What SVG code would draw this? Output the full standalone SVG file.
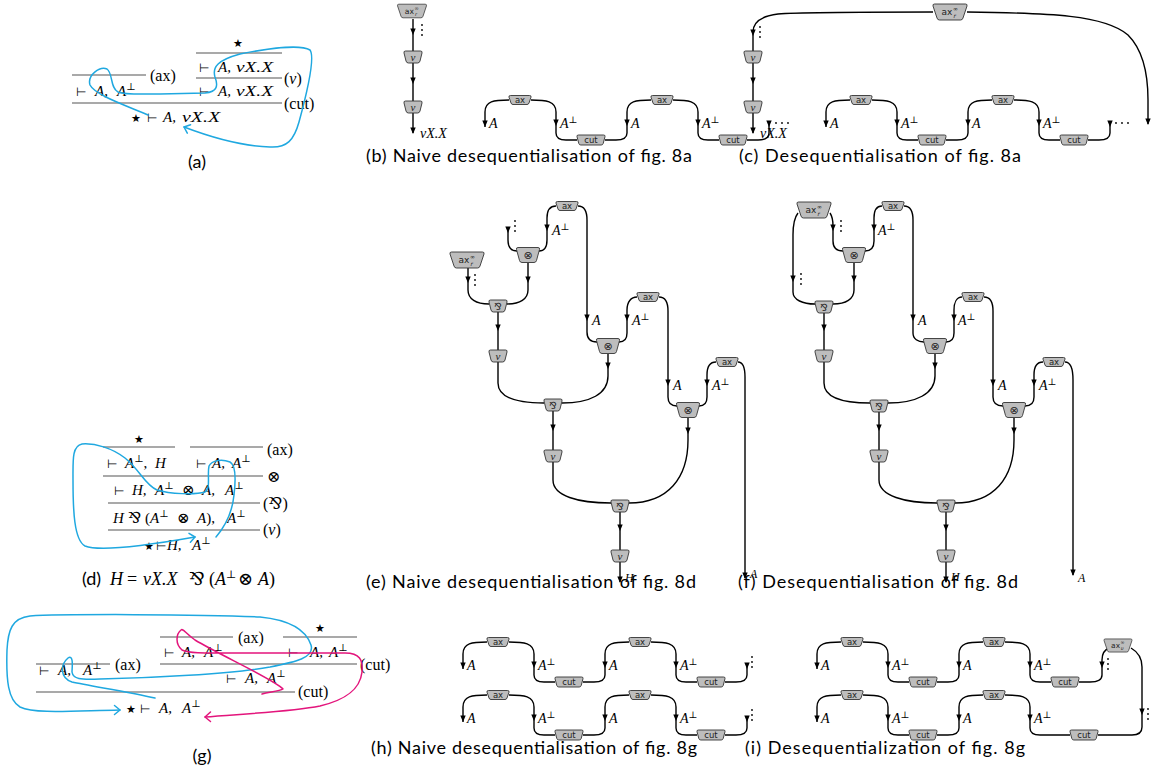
<svg xmlns="http://www.w3.org/2000/svg" width="1164" height="774" viewBox="0 0 1164 774">
<style>
.n{fill:#bdbdbd;stroke:#333;stroke-width:0.9}
.nt{font-family:"DejaVu Sans","Liberation Sans",sans-serif;font-size:8.5px;fill:#222;text-anchor:middle}
.ns{font-family:"DejaVu Sans",sans-serif;font-size:6px;fill:#222}
.nm{font-family:"Liberation Serif","DejaVu Serif",serif;font-style:italic;font-size:11px;fill:#222;text-anchor:middle}
.e{fill:none;stroke:#000;stroke-width:1.4}
.l{font-family:"Liberation Serif","DejaVu Serif",serif;font-style:italic;font-size:14px;fill:#000}
.sup{font-style:normal;font-size:9.5px}
.cap{font-family:"Lato","Liberation Sans",sans-serif;font-size:18px;fill:#000}
.sq{font-family:"Liberation Serif","DejaVu Serif",serif;font-size:15px;fill:#000}
.mi{font-style:italic}
.tu{font-family:"DejaVu Sans",sans-serif;font-size:12px}
.sp{font-family:"DejaVu Serif",serif;font-size:10px}
.star{font-family:"DejaVu Sans",sans-serif;font-size:11px;text-anchor:middle}
.rl{font-family:"Liberation Serif","DejaVu Serif",serif;font-size:16px;fill:#000}
.rule{stroke:#555;stroke-width:1.1}
.blue{fill:none;stroke:#1FA8E0;stroke-width:1.5;stroke-linecap:round;stroke-linejoin:round}
.mag{fill:none;stroke:#E3157C;stroke-width:1.5;stroke-linecap:round;stroke-linejoin:round}
.dt{fill:#000}
</style>
<defs>
<path id="ah" d="M-2.7,-6.5 L2.7,-6.5 L0,0 Z" fill="#000"/>
<g id="axN"><path class="n" d="M-9.5,-4.5 H9.5 Q11.5,-4.5 11,-2.8 L9,3 Q8.5,4.5 7,4.5 H-7 Q-8.5,4.5 -9,3 L-11,-2.8 Q-11.5,-4.5 -9.5,-4.5 Z"/><text class="nt" y="3">ax</text></g>
<g id="cutN"><path class="n" d="M-12.5,-5 H12.5 Q14.5,-5 14,-3.3 L12.2,3.5 Q11.7,5 10.2,5 H-10.2 Q-11.7,5 -12.2,3.5 L-14,-3.3 Q-14.5,-5 -12.5,-5 Z"/><text class="nt" y="3.2">cut</text></g>
<path id="smS" class="n" d="M-7.5,-6 H7.5 Q9.5,-6 9,-4 L7,4 Q6.5,6 4.5,6 H-4.5 Q-6.5,6 -7,4 L-9,-4 Q-9.5,-6 -7.5,-6 Z"/>
<g id="nuN"><use href="#smS"/><text class="nm" y="3.5">ν</text></g>
<g id="parN"><use href="#smS"/><text class="nt" y="3.5" style="font-size:10px">⅋</text></g>
<g id="tenN"><path class="n" d="M-10,-7.5 H10 Q12,-7.5 11.5,-5.5 L8.5,5.5 Q8,7.5 6,7.5 H-6 Q-8,7.5 -8.5,5.5 L-11.5,-5.5 Q-12,-7.5 -10,-7.5 Z"/><text class="nt" y="4" style="font-size:11px">⊗</text></g>
<g id="axrN"><path class="n" d="M-15.5,-8 H15.5 Q17.5,-8 17,-6 L13,6 Q12.5,8 10.5,8 H-10.5 Q-12.5,8 -13,6 L-17,-6 Q-17.5,-8 -15.5,-8 Z"/><text class="nt" x="-3" y="3" style="font-size:9px">ax</text><text class="ns" x="3" y="-1.5">∞</text><text class="ns" x="3.5" y="5.5" style="font-style:italic">r</text></g>
<g id="axvN"><path class="n" d="M-15.5,-8 H15.5 Q17.5,-8 17,-6 L13,6 Q12.5,8 10.5,8 H-10.5 Q-12.5,8 -13,6 L-17,-6 Q-17.5,-8 -15.5,-8 Z"/><text class="nt" x="-3" y="3" style="font-size:9px">ax</text><text class="ns" x="3" y="-1.5">∞</text><text class="ns" x="3.5" y="5.5" style="font-style:italic">υ</text></g>
<g id="ch3">
<path class="e" d="M-11,0 C-26,0 -35,1 -35,12 L-35,27"/>
<path class="e" d="M11,0 C26,0 36,1 36,12 L36,33 C36,38 39,40 46,40 L57,40"/>
<path class="e" d="M85,40 L96,40 C103,40 107,38 107,33 L107,12 C107,1 116,0 131,0"/>
<use href="#ah" x="-35" y="27"/><use href="#ah" x="36" y="26"/><use href="#ah" x="107" y="26"/>
<text class="l" x="-31" y="28">A</text>
<text class="l" x="40" y="28">A<tspan class="sup" dy="-5">⊥</tspan></text>
<text class="l" x="111" y="28">A</text>
</g>
<g id="ch4"><use href="#ch3"/><path class="e" d="M153,0 C168,0 178,1 178,12 L178,33 C178,38 181,40 188,40 L199,40"/><use href="#ah" x="178" y="26"/><text class="l" x="182" y="28">A<tspan class="sup" dy="-5">⊥</tspan></text></g>
<g id="ch5"><use href="#ch4"/><path class="e" d="M227,40 L238,40 C245,40 249,38 249,33 L249,21"/><use href="#ah" x="249" y="27"/></g>
<g id="vd"><circle class="dt" cx="0" cy="0" r="0.9"/><circle class="dt" cx="0" cy="5" r="0.9"/><circle class="dt" cx="0" cy="10" r="0.9"/></g>
<g id="hd"><circle class="dt" cx="0" cy="0" r="0.9"/><circle class="dt" cx="6" cy="0" r="0.9"/><circle class="dt" cx="12" cy="0" r="0.9"/></g>
</defs>
<rect width="1164" height="774" fill="#fff"/>

<!-- (a) sequent proof -->
<g id="proof-a">
<line class="rule" x1="196" y1="53" x2="282" y2="53"/>
<line class="rule" x1="72" y1="75" x2="146" y2="75"/>
<line class="rule" x1="196" y1="78" x2="282" y2="78"/>
<line class="rule" x1="72" y1="103" x2="282" y2="103"/>
<text class="star" x="238" y="47">★</text>
<text class="sq" y="72"><tspan class="tu" x="199">⊢</tspan><tspan class="mi" x="218">A,</tspan></text><text class="sq mi" x="236" y="72" textLength="37" lengthAdjust="spacingAndGlyphs">νX.X</text>
<text class="sq" y="96"><tspan class="tu" x="199">⊢</tspan><tspan class="mi" x="218">A,</tspan></text><text class="sq mi" x="236" y="96" textLength="37" lengthAdjust="spacingAndGlyphs">νX.X</text>
<text class="sq" y="96"><tspan class="tu" x="76">⊢</tspan><tspan class="mi" x="95">A,</tspan><tspan class="mi" x="117">A</tspan><tspan class="sp" dy="-6">⊥</tspan></text>
<text class="sq" y="122"><tspan class="star" x="136">★</tspan><tspan class="tu" x="147">⊢</tspan><tspan class="mi" x="163">A,</tspan></text><text class="sq mi" x="182" y="122" textLength="38" lengthAdjust="spacingAndGlyphs">νX.X</text>
<text class="rl" x="150" y="81">(ax)</text>
<text class="rl" x="284" y="84">(<tspan class="mi">ν</tspan>)</text>
<text class="rl" x="284" y="109">(cut)</text>
<text class="cap" x="197" y="168" text-anchor="middle">(a)</text>
</g>

<!-- (d) sequent proof -->
<g id="proof-d">
<line class="rule" x1="103" y1="447" x2="175" y2="447"/>
<line class="rule" x1="190" y1="447" x2="263" y2="447"/>
<line class="rule" x1="103" y1="476" x2="263" y2="476"/>
<line class="rule" x1="108" y1="503" x2="260" y2="503"/>
<line class="rule" x1="108" y1="530" x2="260" y2="530"/>
<text class="star" x="139" y="443">★</text>
<text class="sq" y="468"><tspan class="tu" x="107">⊢</tspan><tspan class="mi" x="125">A</tspan><tspan class="sp" dy="-6">⊥</tspan><tspan dy="6">,</tspan><tspan class="mi" x="155">H</tspan></text>
<text class="sq" y="468"><tspan class="tu" x="196">⊢</tspan><tspan class="mi" x="212">A,</tspan><tspan class="mi" x="232">A</tspan><tspan class="sp" dy="-6">⊥</tspan></text>
<text class="sq" y="495"><tspan class="tu" x="114">⊢</tspan><tspan class="mi" x="132">H,</tspan><tspan class="mi" x="155">A</tspan><tspan class="sp" dy="-6">⊥</tspan><tspan x="182" dy="6">⊗</tspan><tspan class="mi" x="202">A,</tspan><tspan class="mi" x="225">A</tspan><tspan class="sp" dy="-6">⊥</tspan></text>
<text class="sq" y="523"><tspan class="mi" x="113">H</tspan><tspan x="128">⅋</tspan><tspan x="145">(</tspan><tspan class="mi">A</tspan><tspan class="sp" dy="-6">⊥</tspan><tspan x="177" dy="6">⊗</tspan><tspan class="mi" x="197">A</tspan><tspan>),</tspan><tspan class="mi" x="227">A</tspan><tspan class="sp" dy="-6">⊥</tspan></text>
<text class="sq" y="550"><tspan class="star" x="149">★</tspan><tspan class="tu" x="156">⊢</tspan><tspan class="mi" x="167">H,</tspan><tspan class="mi" x="192">A</tspan><tspan class="sp" dy="-6">⊥</tspan></text>
<text class="rl" x="267" y="455">(ax)</text>
<text class="rl" x="267" y="482">⊗</text>
<text class="rl" x="263" y="509">(⅋)</text>
<text class="rl" x="263" y="535">(<tspan class="mi">ν</tspan>)</text>
<text class="sq" y="585" style="font-size:18px"><tspan class="cap" x="82" style="font-size:18px">(d)</tspan><tspan class="mi" x="110">H</tspan><tspan x="127">=</tspan><tspan class="mi" x="143">νX.X</tspan><tspan x="189">⅋</tspan><tspan x="209">(</tspan><tspan class="mi">A</tspan><tspan class="sp" dy="-7" style="font-size:11px">⊥</tspan><tspan dy="7" x="238">⊗</tspan><tspan class="mi" x="258">A</tspan><tspan>)</tspan></text>
</g>

<!-- (g) sequent proof -->
<g id="proof-g">
<line class="rule" x1="160" y1="637" x2="233" y2="637"/>
<line class="rule" x1="283" y1="637" x2="357" y2="637"/>
<line class="rule" x1="160" y1="664" x2="357" y2="664"/>
<line class="rule" x1="36" y1="664" x2="110" y2="664"/>
<line class="rule" x1="36" y1="692" x2="295" y2="692"/>
<text class="star" x="320" y="632">★</text>
<text class="sq" y="657"><tspan class="tu" x="164">⊢</tspan><tspan class="mi" x="182">A,</tspan><tspan class="mi" x="204">A</tspan><tspan class="sp" dy="-6">⊥</tspan></text>
<text class="sq" y="657"><tspan class="tu" x="288">⊢</tspan><tspan class="mi" x="310">A,</tspan><tspan class="mi" x="329">A</tspan><tspan class="sp" dy="-6">⊥</tspan></text>
<text class="sq" y="675"><tspan class="tu" x="39">⊢</tspan><tspan class="mi" x="58">A,</tspan><tspan class="mi" x="83">A</tspan><tspan class="sp" dy="-6">⊥</tspan></text>
<text class="sq" y="683"><tspan class="tu" x="226">⊢</tspan><tspan class="mi" x="245">A,</tspan><tspan class="mi" x="267">A</tspan><tspan class="sp" dy="-6">⊥</tspan></text>
<text class="sq" y="713"><tspan class="star" x="131">★</tspan><tspan class="tu" x="140">⊢</tspan><tspan class="mi" x="159">A,</tspan><tspan class="mi" x="182">A</tspan><tspan class="sp" dy="-6">⊥</tspan></text>
<text class="rl" x="238" y="643">(ax)</text>
<text class="rl" x="115" y="670">(ax)</text>
<text class="rl" x="360" y="670">(cut)</text>
<text class="rl" x="298" y="697">(cut)</text>
<text class="cap" x="202" y="762" text-anchor="middle">(g)</text>
</g>

<!-- annotation curves -->
<g id="annotations">
<path class="blue" d="M148,115 C125,105 95,95 90,85 C87,75 100,66 107,69 C113,73 110,88 118,92 C125,95 140,94 160,94 L205,93 C218,92 218,85 215,77 C212,67 218,60 240,54 C265,49 300,44 310,50 C316,58 305,100 299,122 C294,140 287,148 270,147 C240,146 205,135 184,127"/>
<path class="blue" d="M190.6,124.8 L184,127 L187.3,133.2"/>
<path class="blue" d="M216,537 C222,530 232,515 234,495 C236,478 236,465 230,462 C222,459 212,460 209,466 C207,475 211,488 205,492 C195,495 170,494 157,490 C145,485 140,470 125,458 C112,448 95,443 82,444 C72,446 73,460 73,480 C73,510 74,540 85,546 C100,552 150,545 195,537"/>
<path class="blue" d="M189,533.3 L195,537 L190.4,542.3"/>
<path class="blue" d="M155,698 C130,692 90,686 72,682 C60,678 60,665 68,658 C74,654 72,668 72,672 C73,679 80,680 100,679 C150,678 230,674 270,667 C295,662 315,658 311,645 C306,630 290,620 260,617 C200,614 60,614 30,616 C12,618 8,630 7,650 C6,680 8,700 20,707 C35,714 70,711 120,710"/>
<path class="blue" d="M114.5,705.5 L120,710 L114.5,714.5"/>
<path class="mag" d="M262,694 C270,692 280,691 283,689 C275,680 220,655 195,640 C185,633 183,628 181,630 C176,634 175,644 182,650 C190,654 210,653 240,653 L345,653 C360,653 363,660 362,672 C360,690 345,700 320,706 C290,712 240,714 205,717"/>
<path class="mag" d="M210.5,712 L205,717 L210.5,721.5"/>
</g>

<!-- connectors -->
<g id="connectors">
<g id="conn-b">
<path class="e" d="M413,19 L413,51 M413,63 L413,101 M413,113 L413,133"/>
<use href="#ah" x="413" y="35"/><use href="#ah" x="413" y="84"/><use href="#ah" x="413" y="134"/>
<use href="#vd" x="422" y="25"/>
<text class="l" x="420" y="138">νX.X</text>
<use href="#ch5" x="520" y="100"/>
<use href="#hd" x="776" y="123"/>
</g>
<g id="conn-c">
<path class="e" d="M933,12 C860,12 800,12 778,14 C762,16 753,22 753,32 L753,51 M753,63 L753,101 M753,113 L753,133"/>
<path class="e" d="M967,12 C1050,13 1105,15 1128,35 C1143,50 1148,75 1148,100 L1148,124"/>
<use href="#ah" x="753" y="36"/><use href="#ah" x="753" y="84"/><use href="#ah" x="753" y="134"/><use href="#ah" x="1148" y="125"/>
<use href="#vd" x="760" y="27"/>
<text class="l" x="760" y="138">νX.X</text>
<use href="#ch5" x="861" y="100"/>
<use href="#hd" x="1116" y="123"/>
</g>
<g id="conn-e">
<path class="e" d="M468,268 L468,290 C468,299 476,304 489,304"/>
<path class="e" d="M508,227 L508,240 C508,247 511,251 517,251"/>
<path class="e" d="M556,206 C550,206 547,210 547,218 L547,240 C547,247 544,251 539,251"/>
<path class="e" d="M578,206 C584,206 587,211 587,220 L587,332 C587,339 591,342 597,342"/>
<path class="e" d="M528,263 L528,290 C528,299 520,304 507,304"/>
<path class="e" d="M498,312 L498,350"/>
<path class="e" d="M498,362 L498,383 C498,397 515,403 544,403"/>
<path class="e" d="M637,297 C631,297 627,302 627,310 L627,333 C627,339 624,342 619,342"/>
<path class="e" d="M659,297 C665,297 668,302 668,311 L668,397 C668,403 671,406 677,406"/>
<path class="e" d="M608,354 L608,376 C608,394 590,403 562,403"/>
<path class="e" d="M553,411 L553,450"/>
<path class="e" d="M553,462 L553,480 C553,496 578,503 611,503"/>
<path class="e" d="M716,362 C710,362 707,367 707,375 L707,397 C707,403 704,406 699,406"/>
<path class="e" d="M738,362 C742,362 745,367 745,377 L745,578"/>
<path class="e" d="M688,418 L688,440 C688,478 668,503 629,503"/>
<path class="e" d="M620,512 L620,550"/>
<path class="e" d="M620,562 L620,582"/>
<use href="#ah" x="468" y="283"/><use href="#ah" x="508" y="233"/><use href="#ah" x="547" y="231"/><use href="#ah" x="587" y="321"/><use href="#ah" x="528" y="283"/><use href="#ah" x="498" y="331"/><use href="#ah" x="627" y="321"/><use href="#ah" x="668" y="386"/><use href="#ah" x="608" y="369"/><use href="#ah" x="553" y="431"/><use href="#ah" x="707" y="386"/><use href="#ah" x="745" y="579"/><use href="#ah" x="688" y="434"/><use href="#ah" x="620" y="531"/><use href="#ah" x="620" y="583"/>
<use href="#vd" x="475" y="275"/><use href="#vd" x="515" y="221"/>
<text class="l" x="552" y="235">A<tspan class="sup" dy="-5">⊥</tspan></text>
<text class="l" x="592" y="325">A</text>
<text class="l" x="632" y="325">A<tspan class="sup" dy="-5">⊥</tspan></text>
<text class="l" x="673" y="390">A</text>
<text class="l" x="712" y="390">A<tspan class="sup" dy="-5">⊥</tspan></text>
<text class="l" x="750" y="578" style="font-size:12px">A</text>
<text class="l" x="625" y="582" style="font-size:12px">H</text>
</g>
<g id="conn-f">
<path class="e" d="M798,213 C794,218 793,225 793,235 L793,292 C793,300 803,304 815,304"/>
<path class="e" d="M830,213 C832,216 833,220 833,226 L833,241 C833,248 837,251 843,251"/>
<path class="e" d="M882,206 C877,206 874,210 874,218 L874,241 C874,248 871,251 865,251"/>
<path class="e" d="M904,206 C910,206 913,211 913,220 L913,333 C913,339 918,342 924,342"/>
<path class="e" d="M854,263 L854,290 C854,299 846,304 833,304"/>
<path class="e" d="M824,313 L824,350"/>
<path class="e" d="M824,362 L824,383 C824,397 842,403 870,403"/>
<path class="e" d="M962,297 C957,297 954,302 954,310 L954,333 C954,339 951,342 946,342"/>
<path class="e" d="M984,297 C990,297 993,302 993,311 L993,397 C993,403 997,406 1003,406"/>
<path class="e" d="M935,354 L935,376 C935,394 916,403 888,403"/>
<path class="e" d="M879,412 L879,450"/>
<path class="e" d="M879,462 L879,480 C879,496 905,503 937,503"/>
<path class="e" d="M1043,362 C1037,362 1034,367 1034,375 L1034,397 C1034,403 1031,406 1025,406"/>
<path class="e" d="M1065,362 C1070,362 1073,368 1073,380 L1073,575"/>
<path class="e" d="M1014,418 L1014,440 C1014,478 994,503 955,503"/>
<path class="e" d="M946,512 L946,550"/>
<path class="e" d="M946,562 L946,582"/>
<use href="#ah" x="793" y="282"/><use href="#ah" x="833" y="231"/><use href="#ah" x="874" y="231"/><use href="#ah" x="913" y="321"/><use href="#ah" x="854" y="282"/><use href="#ah" x="824" y="331"/><use href="#ah" x="954" y="321"/><use href="#ah" x="993" y="386"/><use href="#ah" x="935" y="369"/><use href="#ah" x="879" y="431"/><use href="#ah" x="1034" y="386"/><use href="#ah" x="1073" y="576"/><use href="#ah" x="1014" y="434"/><use href="#ah" x="946" y="531"/><use href="#ah" x="946" y="583"/>
<use href="#vd" x="801" y="274"/><use href="#vd" x="841" y="221"/>
<text class="l" x="878" y="235">A<tspan class="sup" dy="-5">⊥</tspan></text>
<text class="l" x="918" y="325">A</text>
<text class="l" x="958" y="325">A<tspan class="sup" dy="-5">⊥</tspan></text>
<text class="l" x="998" y="390">A</text>
<text class="l" x="1039" y="390">A<tspan class="sup" dy="-5">⊥</tspan></text>
<text class="l" x="1078" y="582" style="font-size:12px">A</text>
<text class="l" x="951" y="581" style="font-size:12px">H</text>
</g>
<g id="conn-h">
<use href="#ch5" x="498" y="642"/>
<use href="#ch5" x="498" y="695"/>
<use href="#vd" x="752" y="657"/>
<use href="#vd" x="752" y="710"/>
</g>
<g id="conn-i">
<use href="#ch4" x="852" y="642"/>
<use href="#ch3" x="852" y="695"/>
<g transform="translate(852,642)">
<path class="e" d="M257,6 C252,8 250,12 250,18 L250,33 C250,38 246,40 238,40 L227,40"/>
<path class="e" d="M279,6 C286,10 290,15 290,25 L290,85 C290,90 287,93 280,93 L246,93"/>
<use href="#ah" x="250" y="26"/><use href="#ah" x="290" y="73"/>
<use href="#vd" x="256" y="17"/><use href="#vd" x="296" y="67"/>
</g>
<g transform="translate(852,695)">
<path class="e" d="M153,0 C168,0 178,1 178,12 L178,33 C178,38 181,40 188,40 L218,40"/>
<use href="#ah" x="178" y="26"/>
<text class="l" x="182" y="28">A<tspan class="sup" dy="-5">⊥</tspan></text>
</g>
</g>
</g>

<!-- nodes -->
<g id="nodes">
<g id="b-axr" transform="translate(412,11) scale(0.85)"><use href="#axrN"/></g>
<g id="b-nu1" transform="translate(413,57)"><use href="#nuN"/></g>
<g id="b-nu2" transform="translate(413,107)"><use href="#nuN"/></g>
<g id="b-ax1" transform="translate(520,100)"><use href="#axN"/></g>
<g id="b-cut1" transform="translate(591,140)"><use href="#cutN"/></g>
<g id="b-ax2" transform="translate(662,100)"><use href="#axN"/></g>
<g id="b-cut2" transform="translate(733,140)"><use href="#cutN"/></g>

<g id="c-axr" transform="translate(950,12)"><use href="#axrN"/></g>
<g id="c-nu1" transform="translate(753,57)"><use href="#nuN"/></g>
<g id="c-nu2" transform="translate(753,107)"><use href="#nuN"/></g>
<g id="c-ax1" transform="translate(861,100)"><use href="#axN"/></g>
<g id="c-cut1" transform="translate(932,140)"><use href="#cutN"/></g>
<g id="c-ax2" transform="translate(1003,100)"><use href="#axN"/></g>
<g id="c-cut2" transform="translate(1074,140)"><use href="#cutN"/></g>

<g id="e-axr" transform="translate(467,260)"><use href="#axrN"/></g>
<g id="e-ten1" transform="translate(528,255)"><use href="#tenN"/></g>
<g id="e-ax1" transform="translate(567,206)"><use href="#axN"/></g>
<g id="e-par1" transform="translate(498,306)"><use href="#parN"/></g>
<g id="e-nu1" transform="translate(498,356)"><use href="#nuN"/></g>
<g id="e-ax2" transform="translate(648,297)"><use href="#axN"/></g>
<g id="e-ten2" transform="translate(608,346)"><use href="#tenN"/></g>
<g id="e-par2" transform="translate(553,405)"><use href="#parN"/></g>
<g id="e-nu2" transform="translate(553,456)"><use href="#nuN"/></g>
<g id="e-ax3" transform="translate(727,362)"><use href="#axN"/></g>
<g id="e-ten3" transform="translate(688,410)"><use href="#tenN"/></g>
<g id="e-par3" transform="translate(620,506)"><use href="#parN"/></g>
<g id="e-nu3" transform="translate(620,556)"><use href="#nuN"/></g>

<g id="f-axr" transform="translate(814,210)"><use href="#axrN"/></g>
<g id="f-ax1" transform="translate(893,206)"><use href="#axN"/></g>
<g id="f-ten1" transform="translate(854,255)"><use href="#tenN"/></g>
<g id="f-par1" transform="translate(824,307)"><use href="#parN"/></g>
<g id="f-nu1" transform="translate(824,356)"><use href="#nuN"/></g>
<g id="f-ax2" transform="translate(973,297)"><use href="#axN"/></g>
<g id="f-ten2" transform="translate(935,346)"><use href="#tenN"/></g>
<g id="f-par2" transform="translate(879,406)"><use href="#parN"/></g>
<g id="f-nu2" transform="translate(879,456)"><use href="#nuN"/></g>
<g id="f-ax3" transform="translate(1054,362)"><use href="#axN"/></g>
<g id="f-ten3" transform="translate(1014,410)"><use href="#tenN"/></g>
<g id="f-par3" transform="translate(946,506)"><use href="#parN"/></g>
<g id="f-nu3" transform="translate(946,556)"><use href="#nuN"/></g>

<g id="h1-ax1" transform="translate(498,642)"><use href="#axN"/></g>
<g id="h1-cut1" transform="translate(569,682)"><use href="#cutN"/></g>
<g id="h1-ax2" transform="translate(640,642)"><use href="#axN"/></g>
<g id="h1-cut2" transform="translate(711,682)"><use href="#cutN"/></g>
<g id="h2-ax1" transform="translate(498,695)"><use href="#axN"/></g>
<g id="h2-cut1" transform="translate(569,735)"><use href="#cutN"/></g>
<g id="h2-ax2" transform="translate(640,695)"><use href="#axN"/></g>
<g id="h2-cut2" transform="translate(711,735)"><use href="#cutN"/></g>

<g id="i1-ax1" transform="translate(852,642)"><use href="#axN"/></g>
<g id="i1-cut1" transform="translate(923,682)"><use href="#cutN"/></g>
<g id="i1-ax2" transform="translate(994,642)"><use href="#axN"/></g>
<g id="i1-cut2" transform="translate(1065,682)"><use href="#cutN"/></g>
<g id="i-axv" transform="translate(1118,645.5) scale(0.82)"><use href="#axvN"/></g>
<g id="i2-ax1" transform="translate(852,695)"><use href="#axN"/></g>
<g id="i2-cut1" transform="translate(923,735)"><use href="#cutN"/></g>
<g id="i2-ax2" transform="translate(994,695)"><use href="#axN"/></g>
<g id="i2-cut2" transform="translate(1084,735)"><use href="#cutN"/></g>
</g>

<!-- captions -->
<g id="captions">
<text class="cap" x="366" y="162" textLength="326" lengthAdjust="spacing">(b) Naive desequentialisation of fig. 8a</text>
<text class="cap" x="739" y="162" textLength="282" lengthAdjust="spacing">(c) Desequentialisation of fig. 8a</text>
<text class="cap" x="366" y="588" textLength="330" lengthAdjust="spacing">(e) Naive desequentialisation of fig. 8d</text>
<text class="cap" x="738" y="588" textLength="280" lengthAdjust="spacing">(f) Desequentialisation of fig. 8d</text>
<text class="cap" x="371" y="754" textLength="326" lengthAdjust="spacing">(h) Naive desequentialisation of fig. 8g</text>
<text class="cap" x="745" y="754" textLength="280" lengthAdjust="spacing">(i) Desequentialization of fig. 8g</text>
</g>
</svg>
